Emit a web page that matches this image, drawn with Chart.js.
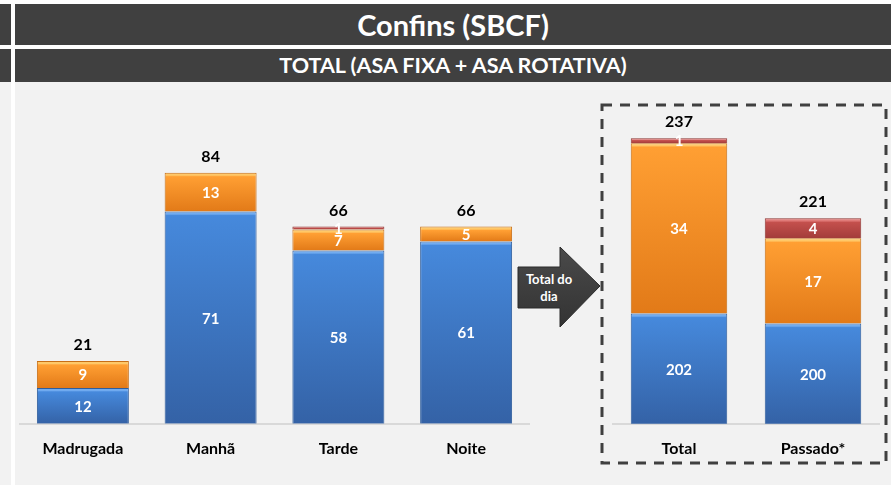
<!DOCTYPE html>
<html>
<head>
<meta charset="utf-8">
<script src="https://cdn.jsdelivr.net/npm/chart.js@4"></script>
<style>
  body { margin: 0; width: 891px; height: 485px; background: #fff; position: relative; overflow: hidden; font-family: Lato, sans-serif; }
  .bloco { position: absolute; }
  .escuro { background: #404040; color: #fff; font-weight: bold; text-align: center; }
  .cinza { background: #f2f2f2; }
  canvas { position: absolute; }
  svg { position: absolute; left: 0; top: 0; }
</style>
</head>
<body>
<div class="bloco escuro" style="left:0;top:4px;width:11px;height:41px"></div>
<div class="bloco escuro" style="left:0;top:49px;width:11px;height:33px"></div>
<div class="bloco cinza" style="left:0;top:82px;width:11px;height:403px"></div>
<div class="bloco escuro" style="left:15px;top:4px;width:876px;height:41px;line-height:41px;font-size:29px">Confins (SBCF)</div>
<div class="bloco escuro" style="left:15px;top:49px;width:876px;height:33px;line-height:33px;font-size:21.5px">TOTAL (ASA FIXA + ASA ROTATIVA)</div>
<div class="bloco cinza" style="left:15px;top:82px;width:876px;height:403px"></div>

<svg width="891" height="485">
  <defs>
    <linearGradient id="seta" x1="0" y1="0" x2="0" y2="1">
      <stop offset="0" stop-color="#4a4a4a"/>
      <stop offset="1" stop-color="#333333"/>
    </linearGradient>
  </defs>
  <rect x="602" y="105" width="284" height="358" fill="none" stroke="#404040" stroke-width="3" stroke-dasharray="10 8"/>
  <polygon points="518,267 560,267 560,247 600,286 560,327 560,308 518,308" fill="url(#seta)" stroke="#2b2b2b" stroke-width="1"/>
  <text x="549" y="284" fill="#fff" font-family="Lato" font-weight="bold" font-size="13" text-anchor="middle">Total do</text>
  <text x="549" y="301" fill="#fff" font-family="Lato" font-weight="bold" font-size="13" text-anchor="middle">dia</text>
</svg>

<canvas id="chartPeriodos" width="511" height="402" style="left:19px;top:83px"></canvas>
<canvas id="chartTotal" width="268" height="402" style="left:612px;top:83px"></canvas>

<script>
// Periodos do dia
const periodos = ['Madrugada', 'Manhã', 'Tarde', 'Noite'];
const periodosAzul = [12, 71, 58, 61];
const periodosLaranja = [9, 13, 7, 5];
const periodosVermelho = [0, 0, 1, 0];

// Total do dia x passado
const totais = ['Total', 'Passado*'];
const totaisAzul = [202, 200];
const totaisLaranja = [34, 17];
const totaisVermelho = [1, 4];

// brilho, topo, base
const AZUL = ['#72acf0', '#4689dc', '#3462a6'];
const LARANJA = ['#ffc868', '#ff9f33', '#e27a18'];
const VERMELHO = ['#e07a78', '#c4504d', '#a33c3a'];

Chart.defaults.font.family = 'Lato';
Chart.defaults.font.weight = 'bold';

// degrade vertical em cada segmento, usando a escala y do grafico
function degrade(cores) {
  return (c) => {
    const chart = c.chart;
    const y = chart.scales.y;
    const area = chart.chartArea;
    if (!y || !area || c.dataIndex == null) return cores[1];
    let inicio = 0;
    for (let k = 0; k < c.datasetIndex; k++) inicio += chart.data.datasets[k].data[c.dataIndex];
    const v = chart.data.datasets[c.datasetIndex].data[c.dataIndex];
    const topo = Math.max(y.getPixelForValue(inicio + v), area.top);
    const base = Math.min(y.getPixelForValue(inicio), area.bottom);
    const h = Math.max(base - topo, 1);
    const g = chart.ctx.createLinearGradient(0, topo, 0, base);
    const s = Math.min(2.5 / h, 0.3);
    g.addColorStop(0, cores[0]);
    g.addColorStop(s, cores[0]);
    g.addColorStop(Math.min(s * 1.6, 0.5), cores[1]);
    g.addColorStop(1, cores[2]);
    return g;
  };
}

// rotulos dentro das barras e total no topo
const rotulos = {
  id: 'rotulos',
  afterDatasetsDraw(chart) {
    const ctx = chart.ctx;
    const area = chart.chartArea;
    ctx.save();
    ctx.textAlign = 'center';
    ctx.textBaseline = 'middle';
    ctx.font = 'bold 15px Lato';
    const topos = [];
    const somas = [];
    chart.data.datasets.forEach((ds, i) => {
      const meta = chart.getDatasetMeta(i);
      meta.data.forEach((bar, j) => {
        const v = ds.data[j];
        somas[j] = (somas[j] || 0) + v;
        if (!v) return;
        const topo = Math.max(bar.y, area.top);
        const base = Math.min(bar.base, area.bottom);
        topos[j] = Math.min(topos[j] ?? Infinity, topo);
        ctx.fillStyle = '#fff';
        ctx.fillText(v, bar.x, (topo + base) / 2 + 1);
      });
    });
    ctx.fillStyle = '#000';
    ctx.font = 'bold 16px Lato';
    const meta0 = chart.getDatasetMeta(0);
    meta0.data.forEach((bar, j) => {
      ctx.fillText(somas[j], bar.x, topos[j] - 16);
    });
    ctx.restore();
  }
};

function montar(id, labels, azul, laranja, vermelho, yMin, yMax) {
  return new Chart(document.getElementById(id), {
    type: 'bar',
    data: {
      labels,
      datasets: [
        { label: 'Série A', data: azul, backgroundColor: degrade(AZUL), borderColor: '#2f5d9c', borderWidth: 1 },
        { label: 'Série B', data: laranja, backgroundColor: degrade(LARANJA), borderColor: '#c86f16', borderWidth: 1 },
        { label: 'Série C', data: vermelho, backgroundColor: degrade(VERMELHO), borderColor: '#8f3533', borderWidth: 1 }
      ]
    },
    options: {
      responsive: false,
      animation: false,
      devicePixelRatio: 1,
      layout: { padding: { top: 0, bottom: 20, left: 0, right: 0 } },
      datasets: { bar: { barPercentage: 0.72, categoryPercentage: 1 } },
      plugins: { legend: { display: false }, tooltip: { enabled: false } },
      scales: {
        x: {
          stacked: true,
          grid: { display: false },
          border: { display: true, color: '#d9d9d9', width: 2 },
          ticks: { color: '#000', font: { size: 16, weight: 'bold' }, padding: 7 }
        },
        y: { stacked: true, display: false, min: yMin, max: yMax }
      }
    },
    plugins: [rotulos]
  });
}

montar('chartPeriodos', periodos, periodosAzul, periodosLaranja, periodosVermelho, 0, 114);
montar('chartTotal', totais, totaisAzul, totaisLaranja, totaisVermelho, 180, 248);
</script>
</body>
</html>
